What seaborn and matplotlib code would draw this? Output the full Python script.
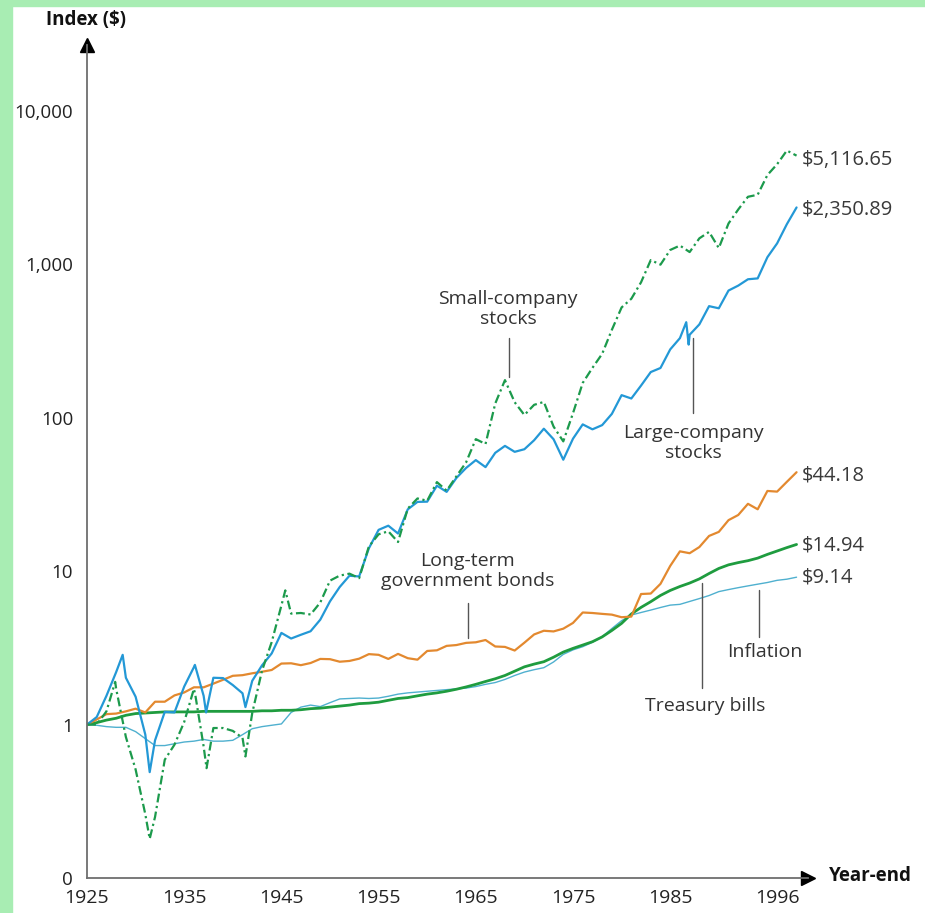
import numpy as np
import pandas as pd
import matplotlib
matplotlib.use("Agg")
import matplotlib.pyplot as plt
import seaborn as sns
from matplotlib.patches import Rectangle

# ---------------- data (year-end index values, $1 invested at end of 1925) ----------------
years = list(range(1925, 1999))

large = [1.00, 1.12, 1.54, 2.20, 2.02, 1.52, 0.86, 0.79, 1.21, 1.20, 1.77, 2.37, 1.54, 2.02, 2.01,
         1.81, 1.60, 1.93, 2.43, 2.91, 3.96, 3.64, 3.85, 4.06, 4.83, 6.36, 7.89, 9.34, 9.24, 14.1,
         18.6, 19.8, 17.6, 25.3, 28.3, 28.4, 36.1, 32.9, 40.5, 47.1, 53.0, 47.7, 59.1, 65.6, 60.0,
         62.4, 71.4, 84.9, 72.5, 53.3, 73.1, 90.6, 84.1, 89.6, 106.1, 140.5, 133.6, 162.2, 198.7, 211.2,
         279.1, 330.6, 347.9, 406.4, 534.4, 517.4, 675.5, 727.3, 800.0, 810.5, 1113.9, 1371.0, 1828.3, 2350.89]

small = [1.00, 1.00, 1.22, 1.71, 0.83, 0.51, 0.26, 0.25, 0.59, 0.74, 1.04, 1.71, 0.72, 0.95, 0.95,
         0.91, 0.82, 1.19, 2.24, 3.45, 5.98, 5.29, 5.34, 5.22, 6.25, 8.68, 9.36, 9.64, 9.01, 14.5,
         17.4, 18.2, 15.5, 25.6, 29.8, 28.8, 38.1, 33.5, 41.5, 51.2, 72.6, 67.5, 123.9, 176.0, 126.3,
         104.3, 121.5, 126.9, 87.7, 70.2, 107.2, 168.8, 211.6, 261.2, 374.8, 524.2, 597.0, 764.2, 1067.3, 996.1,
         1241.8, 1326.9, 1203.5, 1478.7, 1629.2, 1278.0, 1848.9, 2280.7, 2759.2, 2844.9, 3825.1, 4499.3, 5524.2, 5116.65]

bonds = [1.00, 1.08, 1.17, 1.18, 1.22, 1.27, 1.20, 1.41, 1.41, 1.55, 1.62, 1.75, 1.75, 1.85, 1.96,
         2.08, 2.10, 2.16, 2.21, 2.27, 2.50, 2.51, 2.44, 2.52, 2.68, 2.67, 2.57, 2.60, 2.69, 2.88,
         2.85, 2.68, 2.89, 2.71, 2.65, 3.02, 3.05, 3.26, 3.30, 3.41, 3.44, 3.56, 3.23, 3.21, 3.04,
         3.42, 3.87, 4.09, 4.05, 4.22, 4.60, 5.38, 5.34, 5.27, 5.21, 5.01, 5.06, 7.10, 7.15, 8.27,
         10.82, 13.47, 13.10, 14.37, 16.98, 18.04, 21.52, 23.25, 27.50, 25.33, 33.35, 33.02, 38.24, 44.18]

tbills = [1.00, 1.03, 1.07, 1.10, 1.15, 1.18, 1.19, 1.20, 1.21, 1.21, 1.21, 1.21, 1.22, 1.22, 1.22,
          1.22, 1.22, 1.22, 1.23, 1.23, 1.24, 1.24, 1.25, 1.27, 1.28, 1.30, 1.32, 1.34, 1.37, 1.38,
          1.40, 1.44, 1.48, 1.50, 1.54, 1.58, 1.61, 1.65, 1.70, 1.76, 1.83, 1.91, 1.99, 2.09, 2.23,
          2.38, 2.48, 2.57, 2.75, 2.97, 3.14, 3.30, 3.47, 3.73, 4.11, 4.57, 5.26, 5.81, 6.33, 6.95,
          7.49, 7.95, 8.37, 8.91, 9.66, 10.42, 11.00, 11.38, 11.71, 12.17, 12.87, 13.54, 14.25, 14.94]

inflation = [1.00, 0.99, 0.97, 0.96, 0.96, 0.90, 0.81, 0.73, 0.73, 0.75, 0.77, 0.78, 0.80, 0.78, 0.78,
             0.79, 0.86, 0.94, 0.97, 0.99, 1.01, 1.20, 1.30, 1.34, 1.31, 1.39, 1.47, 1.48, 1.49, 1.48,
             1.49, 1.53, 1.58, 1.61, 1.63, 1.65, 1.67, 1.69, 1.71, 1.73, 1.77, 1.83, 1.88, 1.97, 2.09,
             2.20, 2.28, 2.35, 2.56, 2.87, 3.07, 3.22, 3.44, 3.74, 4.23, 4.76, 5.18, 5.38, 5.58, 5.80,
             6.01, 6.08, 6.35, 6.63, 6.94, 7.36, 7.59, 7.81, 8.02, 8.23, 8.44, 8.72, 8.87, 9.14]

# intra-year extremes visible on the chart
large_extra_years = [1928.67, 1931.45, 1936.1, 1937.25, 1941.3, 1986.65, 1986.9]
large_extra_vals = [2.85, 0.49, 2.45, 1.20, 1.30, 420.0, 300.0]
small_extra_years = [1927.9, 1931.45, 1936.15, 1937.3, 1941.3, 1945.4]
small_extra_vals = [1.90, 0.18, 1.55, 0.52, 0.62, 7.5]

end_labels = ["$5,116.65", "$2,350.89", "$44.18", "$14.94", "$9.14"]
x_ticks = [1925, 1935, 1945, 1955, 1965, 1975, 1985, 1996]
y_ticks = [0.1, 1, 10, 100, 1000, 10000]
y_ticklabels = ["0", "1", "10", "100", "1,000", "10,000"]

# ---------------- styling ----------------
sns.set_style("white")
plt.rcParams["font.family"] = ["Open Sans", "DejaVu Sans"]

W, H = 925, 913
fig = plt.figure(figsize=(W / 100, H / 100), dpi=100, facecolor="white")

# green frame strips (left and top)
FRAME = "#a8edb3"
fig.patches.append(Rectangle((0, 0), 12 / W, 1, transform=fig.transFigure, color=FRAME, zorder=0))
fig.patches.append(Rectangle((0, 1 - 6 / H), 1, 6 / H, transform=fig.transFigure, color=FRAME, zorder=0))

# axes geometry (pixels)
X0, X1 = 87, 808
Y_TOP, Y_BOT = 45, 878
ax = fig.add_axes([X0 / W, 1 - Y_BOT / H, (X1 - X0) / W, (Y_BOT - Y_TOP) / H])
ax.set_facecolor("none")

PX_PER_YR = 9.72
DEC = 153.4
xmax = 1925 + (X1 - X0) / PX_PER_YR
ymax = 10 ** (-1 + (Y_BOT - Y_TOP) / DEC)


def px2x(px):
    return 1925 + (px - X0) / PX_PER_YR


def py2y(py):
    return 10 ** (-1 + (Y_BOT - py) / DEC)


def series_df(yrs, vals, ex_y=None, ex_v=None):
    xs = list(yrs) + (list(ex_y) if ex_y else [])
    vs = list(vals) + (list(ex_v) if ex_v else [])
    d = pd.DataFrame({"year": xs, "value": vs}).sort_values("year")
    return d


C_LARGE = "#2398d6"
C_SMALL = "#1c9a4c"
C_BONDS = "#e3892f"
C_TB = "#1f9c3f"
C_INF = "#4fb0cf"

ax.set_yscale("log")

sns.lineplot(data=series_df(years, inflation), x="year", y="value", ax=ax,
             color=C_INF, linewidth=1.0, estimator=None)
sns.lineplot(data=series_df(years, tbills), x="year", y="value", ax=ax,
             color=C_TB, linewidth=2.0, estimator=None)
sns.lineplot(data=series_df(years, bonds), x="year", y="value", ax=ax,
             color=C_BONDS, linewidth=1.6, estimator=None)
sns.lineplot(data=series_df(years, large, large_extra_years, large_extra_vals), x="year", y="value", ax=ax,
             color=C_LARGE, linewidth=1.6, estimator=None)
sns.lineplot(data=series_df(years, small, small_extra_years, small_extra_vals), x="year", y="value", ax=ax,
             color=C_SMALL, linewidth=1.6, estimator=None, linestyle=(0, (4, 1.6, 1, 1.6)))

ax.set_xlim(1925, xmax)
ax.set_ylim(0.1, ymax)
ax.set_xticks(x_ticks)
ax.set_xticklabels([str(t) for t in x_ticks], fontsize=14, color="#222222")
ax.set_yticks(y_ticks)
ax.set_yticklabels(y_ticklabels, fontsize=13.5, color="#222222")
ax.minorticks_off()
ax.set_xlabel("")
ax.set_ylabel("")

AX_COL = "#6e6e6e"
for s in ["top", "right"]:
    ax.spines[s].set_visible(False)
for s in ["left", "bottom"]:
    ax.spines[s].set_color(AX_COL)
    ax.spines[s].set_linewidth(1.3)
ax.tick_params(axis="x", direction="in", length=12, width=1.1, color=AX_COL, pad=8)
ax.tick_params(axis="y", direction="in", length=9, width=1.1, color=AX_COL, pad=10)

# arrow heads
ax.plot([0], [1], marker="^", ms=10, color="black", transform=ax.transAxes, clip_on=False)
ax.plot([1], [0], marker=">", ms=10, color="black", transform=ax.transAxes, clip_on=False)

# axis titles
fig.text(86 / W, 1 - 20 / H, "Index ($)", ha="center", va="center", fontsize=13.5, fontweight="bold",
         color="#111111")
fig.text(829 / W, 1 - 876 / H, "Year-end", ha="left", va="center", fontsize=13.5, fontweight="bold",
         color="#111111")

TXT = "#333333"
LEAD = "#555555"
ANN_FS = 14

# annotations with leader lines
ax.text(px2x(508), py2y(309), "Small-company\nstocks", ha="center", va="center", fontsize=ANN_FS,
        color=TXT, linespacing=1.1)
ax.plot([px2x(509), px2x(509)], [py2y(338), py2y(377)], color=LEAD, lw=1.0)

ax.text(px2x(693), py2y(443), "Large-company\nstocks", ha="center", va="center", fontsize=ANN_FS,
        color=TXT, linespacing=1.1)
ax.plot([px2x(693), px2x(693)], [py2y(338), py2y(413)], color=LEAD, lw=1.0)

ax.text(px2x(468), py2y(571), "Long-term\ngovernment bonds", ha="center", va="center", fontsize=ANN_FS,
        color=TXT, linespacing=1.1)
ax.plot([px2x(468), px2x(468)], [py2y(603), py2y(638)], color=LEAD, lw=1.0)

ax.text(px2x(705), py2y(706), "Treasury bills", ha="center", va="center", fontsize=ANN_FS, color=TXT)
ax.plot([px2x(702), px2x(702)], [py2y(583), py2y(688)], color=LEAD, lw=1.0)

ax.text(px2x(765), py2y(652), "Inflation", ha="center", va="center", fontsize=ANN_FS, color=TXT)
ax.plot([px2x(759), px2x(759)], [py2y(590), py2y(637)], color=LEAD, lw=1.0)

# end-value labels
for lab, py in zip(end_labels, [160, 210, 475, 545, 577]):
    ax.text(px2x(802), py2y(py), lab, ha="left", va="center", fontsize=14.5, color="#3a3a3a", clip_on=False)

fig.savefig("out.png", dpi=100, facecolor="white")
